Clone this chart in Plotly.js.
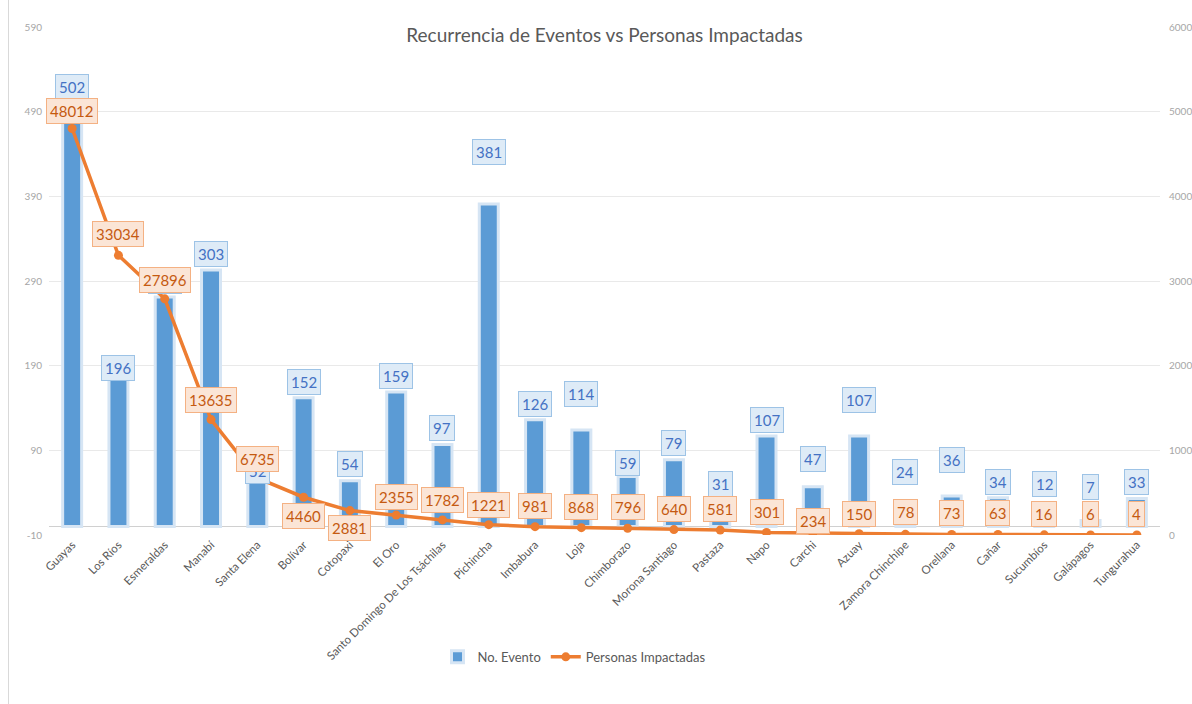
<!DOCTYPE html>
<html>
<head>
<meta charset="utf-8">
<script src="https://cdn.plot.ly/plotly-3.0.1.min.js"></script>
<style>
html,body{margin:0;padding:0;background:#fff;}
#chart{width:1192px;height:704px;}
#edge{position:absolute;left:8px;top:0;width:1px;height:704px;background:#d9d9d9;}
</style>
</head>
<body>
<div id="chart"></div>
<div id="edge"></div>
<script>
// ---- data ----
const provincias = ["Guayas","Los Ríos","Esmeraldas","Manabí","Santa Elena","Bolívar","Cotopaxi","El Oro",
  "Santo Domingo De Los Tsáchilas","Pichincha","Imbabura","Loja","Chimborazo","Morona Santiago","Pastaza",
  "Napo","Carchi","Azuay","Zamora Chinchipe","Orellana","Cañar","Sucumbíos","Galápagos","Tungurahua"];
const eventos = [502,196,271,303,52,152,54,159,97,381,126,114,59,79,31,107,47,107,24,36,34,12,7,33];
const personas = [48012,33034,27896,13635,6735,4460,2881,2355,1782,1221,981,868,796,640,581,301,234,150,78,73,63,16,6,4];
const leftTicks = [-10,90,190,290,390,490,590];
const rightTicks = [0,10000,20000,30000,40000,50000,60000];

// label offsets (px above the mark, as placed in the original)
const barLabelLift = [15,-7,16,16,12,16,17,16,16,52,16,36,14,17,16,16,28,36,34,36,16,32,34,17];
const lineLabelLift = [18,21,19,20,19,-19,-17,18,20,20,21,21,21,21,21,20,12,20,22,21,21,21,21,21];

const FONT = "Lato, 'Open Sans', 'Liberation Sans', sans-serif";

const barTrace = {
  type: 'bar', name: 'No. Evento', x: provincias, y: eventos, yaxis: 'y',
  marker: {color: '#5b9bd5', line: {color: '#d6e5f4', width: 3}},
  width: 0.41, hoverinfo: 'skip'
};
const lineTrace = {
  type: 'scatter', mode: 'lines+markers', name: 'Personas Impactadas', x: provincias, y: personas, yaxis: 'y2',
  line: {color: '#ed7d31', width: 3.5}, marker: {color: '#ed7d31', size: 9}, hoverinfo: 'skip'
};

const annotations = [];
provincias.forEach((p, i) => {
  annotations.push({
    x: p, y: eventos[i], xref: 'x', yref: 'y', text: String(eventos[i]), showarrow: false,
    yanchor: 'middle', yshift: barLabelLift[i],
    font: {family: FONT, size: 15, color: '#4472c4'},
    bgcolor: '#deebf7', bordercolor: '#9dc3e6', borderwidth: 1, borderpad: 3
  });
});
provincias.forEach((p, i) => {
  annotations.push({
    x: p, y: personas[i], xref: 'x', yref: 'y2', text: String(personas[i]), showarrow: false,
    yanchor: 'middle', yshift: lineLabelLift[i],
    font: {family: FONT, size: 15, color: '#c55a11'},
    bgcolor: '#fbe5d6', bordercolor: '#f4b183', borderwidth: 1, borderpad: 3
  });
});

const layout = {
  width: 1192, height: 704,
  margin: {l: 49, r: 32, t: 27, b: 169},
  paper_bgcolor: '#fff', plot_bgcolor: '#fff',
  font: {family: FONT, color: '#595959'},
  title: {text: 'Recurrencia de Eventos vs Personas Impactadas', font: {family: FONT, size: 19, color: '#595959'},
          x: 0.5, xref: 'paper', y: 1 - 35/704, yref: 'container', yanchor: 'middle'},
  showlegend: true,
  legend: {orientation: 'h', x: 0.473, xanchor: 'center', y: -0.24, yanchor: 'middle',
           font: {family: FONT, size: 13, color: '#595959'}},
  xaxis: {type: 'category', range: [-0.5, provincias.length - 0.5], autorange: false, tickangle: -45,
          tickfont: {family: FONT, size: 11.5, color: '#595959'},
          showgrid: false, showline: false, ticks: '', automargin: false},
  yaxis: {range: [-10, 590], tickmode: 'array', tickvals: leftTicks, ticktext: leftTicks.map(String),
          showgrid: true, gridcolor: '#e9e9e9', zeroline: true, zerolinecolor: '#d0d0d0', zerolinewidth: 1.5,
          tickfont: {family: FONT, size: 10, color: '#a6a6a6'}, ticks: '', ticklabelstandoff: 6,
          showline: false, automargin: false},
  yaxis2: {range: [0, 60000], overlaying: 'y', side: 'right', tickmode: 'array', tickvals: rightTicks,
           ticktext: rightTicks.map(String), showgrid: false, zeroline: false,
           tickfont: {family: FONT, size: 10, color: '#a6a6a6'}, ticks: '', ticklabelstandoff: 8,
           showline: false, automargin: false},
  annotations: annotations,
  hovermode: false
};

Plotly.newPlot('chart', [barTrace, lineTrace], layout, {displayModeBar: false, staticPlot: true});
</script>
</body>
</html>
